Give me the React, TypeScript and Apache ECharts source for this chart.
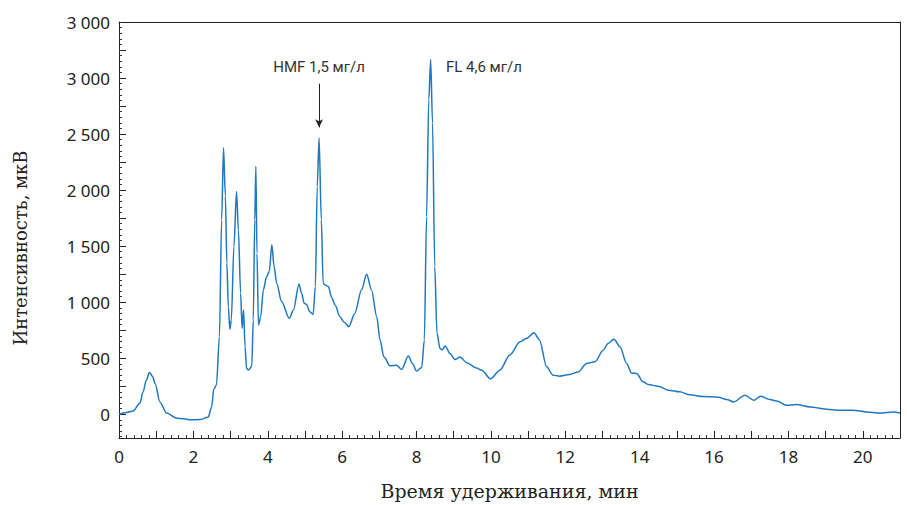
import React, { useEffect, useRef } from "react";
import * as echarts from "echarts";

const times = [0, 0.2, 0.38, 0.56, 0.65, 0.73, 0.82, 0.9, 0.97, 1.1, 1.28, 1.55, 1.75, 1.91, 2.18, 2.4, 2.49, 2.55, 2.62, 2.7, 2.76, 2.81, 2.86, 2.9, 2.94, 2.98, 3.02, 3.09, 3.16, 3.21, 3.27, 3.31, 3.35, 3.39, 3.43, 3.48, 3.57, 3.61, 3.65, 3.68, 3.71, 3.75, 3.81, 3.88, 3.97, 4.04, 4.11, 4.17, 4.24, 4.37, 4.58, 4.69, 4.84, 4.91, 4.98, 5.04, 5.13, 5.22, 5.28, 5.33, 5.38, 5.44, 5.49, 5.54, 5.63, 5.72, 5.81, 5.94, 6.06, 6.18, 6.34, 6.52, 6.66, 6.79, 6.93, 7.02, 7.12, 7.29, 7.46, 7.6, 7.78, 7.89, 8.0, 8.14, 8.21, 8.27, 8.33, 8.38, 8.43, 8.49, 8.55, 8.63, 8.69, 8.77, 8.9, 9.03, 9.17, 9.35, 9.61, 9.75, 9.99, 10.24, 10.51, 10.78, 10.96, 11.16, 11.3, 11.5, 11.67, 11.85, 12.12, 12.35, 12.57, 12.8, 13.02, 13.15, 13.31, 13.47, 13.65, 13.78, 13.92, 14.09, 14.23, 14.5, 14.77, 15.08, 15.35, 15.71, 16.11, 16.34, 16.53, 16.83, 17.07, 17.25, 17.5, 17.68, 17.95, 18.22, 18.58, 19.02, 19.38, 19.74, 20.1, 20.46, 20.82, 21];

const intensity = [0, 15, 30, 98, 200, 300, 373, 340, 275, 110, 10, -35, -40, -50, -48, -25, 65, 225, 260, 692, 1735, 2377, 1950, 1350, 960, 758, 841, 1497, 1988, 1646, 1080, 767, 930, 602, 409, 394, 429, 841, 1735, 2212, 1437, 796, 871, 1109, 1228, 1273, 1512, 1318, 1168, 1005, 856, 930, 1163, 1079, 990, 981, 915, 891, 1139, 2033, 2465, 1735, 1168, 1154, 1139, 1040, 975, 870, 820, 781, 900, 1109, 1249, 1109, 870, 662, 512, 432, 438, 400, 519, 453, 385, 418, 662, 1765, 2809, 3166, 2600, 1318, 722, 588, 573, 610, 543, 489, 510, 460, 413, 393, 316, 393, 528, 647, 677, 728, 667, 423, 349, 340, 355, 378, 453, 468, 572, 632, 670, 602, 453, 367, 364, 289, 265, 250, 215, 200, 173, 158, 152, 131, 110, 170, 125, 161, 131, 119, 80, 86, 65, 45, 36, 36, 21, 12, 21, 12];

const yLabelValues = [0, 500, 1000, 1500, 2000, 2500, 3000, 3500];
const yLabelTexts = ["0", "500", "1 000", "1 500", "2 000", "2 500", "3 000", "3 000"];
const yMajorTicks = [0, 250, 500, 750, 1000, 1250, 1500, 1750, 2000, 2250, 2500, 2750, 3000, 3250, 3500];
const yMinorTicks: number[] = [];
for (let v = -200; v <= 3500; v += 50) yMinorTicks.push(v);

const hmfLabel = "HMF 1,5 мг/л";
const flLabel = "FL 4,6 мг/л";
const hmfTime = 5.38;
const flTextTime = 8.79;
const labelLevel = 3095;
const arrowFrom = 2950;
const arrowTo = 2560;

const X_MIN = 0;
const X_MAX = 21;
const Y_MIN = -212;
const Y_MAX = 3500;

export default function App() {
  const ref = useRef<HTMLDivElement>(null);
  useEffect(() => {
    if (!ref.current) return;
    const chart = echarts.init(ref.current, undefined, { renderer: "svg" });
    const data = times.map((t, i) => [t, intensity[i]]);
    const labelFont = "'Noto Sans', 'Open Sans', sans-serif";
    const serif = "'DejaVu Serif', 'Liberation Serif', serif";
    const narrow = "'Roboto', 'Noto Sans', sans-serif";
    const frameAxis = {
      type: "value",
      axisLine: { show: true, onZero: false, lineStyle: { color: "#222", width: 1 } },
      axisTick: { show: false },
      axisLabel: { show: false },
      splitLine: { show: false },
    };
    chart.setOption({
      animation: false,
      grid: {
        left: 119,
        right: 7,
        top: 22,
        bottom: 67,
        show: false,
        containLabel: false,
      },
      xAxis: [
        {
          type: "value",
          min: X_MIN,
          max: X_MAX,
          interval: 1,
          position: "bottom",
          name: "Время удерживания, мин",
          nameLocation: "middle",
          nameGap: 43,
          nameTextStyle: { fontFamily: serif, fontSize: 19, color: "#222" },
          axisLine: { show: true, onZero: false, lineStyle: { color: "#222", width: 1 } },
          axisTick: { show: true, inside: true, length: 7, lineStyle: { color: "#222", width: 1 } },
          minorTick: { show: true, splitNumber: 5, length: 3, lineStyle: { color: "#333", width: 1 } },
          splitLine: { show: false },
          minorSplitLine: { show: false },
          axisLabel: {
            margin: 10,
            fontFamily: labelFont,
            fontSize: 17,
            color: "#222",
            formatter: (v: number) => (Math.round(v) % 2 === 0 ? String(Math.round(v)) : ""),
          },
        },
        { ...frameAxis, min: X_MIN, max: X_MAX, position: "top" },
      ],
      yAxis: [
        {
          type: "value",
          min: Y_MIN,
          max: Y_MAX,
          position: "left",
          name: "Интенсивность, мкВ",
          nameLocation: "middle",
          nameGap: 90,
          nameTextStyle: { fontFamily: serif, fontSize: 18, color: "#222", padding: [0, 36, 0, 0] },
          axisLine: { show: true, onZero: false, lineStyle: { color: "#222", width: 1 } },
          axisTick: {
            show: true,
            inside: true,
            length: 7,
            customValues: yMajorTicks,
            lineStyle: { color: "#222", width: 1 },
          },
          splitLine: { show: false },
          axisLabel: {
            margin: 9,
            fontFamily: labelFont,
            fontSize: 17,
            color: "#222",
            customValues: yLabelValues,
            formatter: (v: number) => {
              const i = yLabelValues.indexOf(Math.round(v));
              return i >= 0 ? yLabelTexts[i] : "";
            },
          },
        },
        {
          type: "value",
          min: Y_MIN,
          max: Y_MAX,
          position: "left",
          offset: 0,
          axisLine: { show: false },
          axisTick: {
            show: true,
            inside: true,
            length: 3,
            customValues: yMinorTicks,
            lineStyle: { color: "#333", width: 1 },
          },
          axisLabel: { show: false },
          splitLine: { show: false },
        },
        { ...frameAxis, min: Y_MIN, max: Y_MAX, position: "right", offset: 0 },
      ],
      series: [
        {
          type: "line",
          data,
          xAxisIndex: 0,
          yAxisIndex: 0,
          showSymbol: false,
          symbol: "none",
          smooth: 0.3,
          smoothMonotone: "x",
          lineStyle: { color: "#1f78c1", width: 1.5 },
          markLine: {
            silent: true,
            symbol: ["none", "arrow"],
            symbolSize: [6, 8],
            label: { show: false },
            lineStyle: { color: "#222", width: 1, type: "solid" },
            data: [[{ coord: [hmfTime, arrowFrom] }, { coord: [hmfTime, arrowTo] }]],
          },
          markPoint: {
            silent: true,
            symbol: "circle",
            symbolSize: 0,
            data: [
              {
                coord: [hmfTime, labelLevel],
                label: {
                  show: true,
                  formatter: hmfLabel,
                  position: "inside",
                  align: "center",
                  verticalAlign: "middle",
                  fontFamily: narrow,
                  fontSize: 15,
                  color: "#333",
                },
              },
              {
                coord: [flTextTime, labelLevel],
                label: {
                  show: true,
                  formatter: flLabel,
                  position: "inside",
                  align: "left",
                  verticalAlign: "middle",
                  fontFamily: narrow,
                  fontSize: 15,
                  color: "#333",
                },
              },
            ],
          },
        },
      ],
    });
    return () => chart.dispose();
  }, []);
  return (
    <div
      ref={ref}
      style={{ position: "absolute", left: 0, top: 0, width: 907, height: 505, background: "#fff" }}
    />
  );
}
